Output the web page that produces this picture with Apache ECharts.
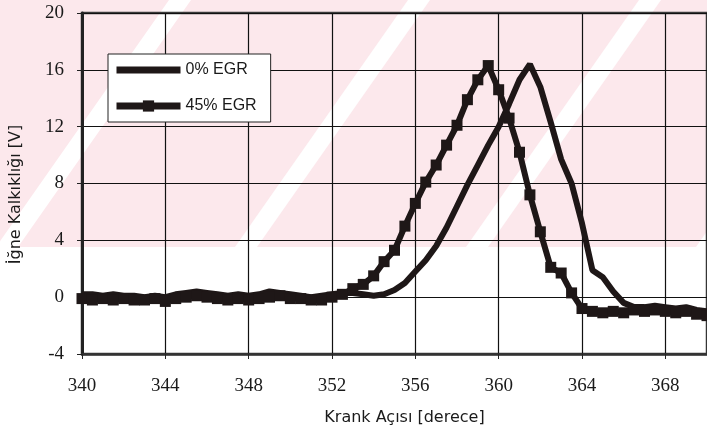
<!DOCTYPE html>
<html>
<head>
<meta charset="utf-8">
<script src="https://cdn.jsdelivr.net/npm/echarts@6/dist/echarts.min.js"></script>
<style>html,body{margin:0;padding:0;background:#fff;}#c{width:707px;height:435px;}</style>
</head>
<body>
<div id="c"></div>
<script>
// Crank angle (degrees)
var angles = [340,340.5,341,341.5,342,342.5,343,343.5,344,344.5,345,345.5,346,346.5,347,347.5,348,348.5,349,349.5,
  350,350.5,351,351.5,352,352.5,353,353.5,354,354.5,355,355.5,356,356.5,357,357.5,358,358.5,359,359.5,
  360,360.5,361,361.5,362,362.5,363,363.5,364,364.5,365,365.5,366,366.5,367,367.5,368,368.5,369,369.5,370];
// Needle lift [V], 0% EGR
var egr0 = [0.2,0.2,0.1,0.2,0.1,0.1,0.0,0.1,0.0,0.2,0.3,0.4,0.3,0.2,0.1,0.2,0.1,0.2,0.4,0.3,
  0.2,0.1,0.0,0.1,0.2,0.3,0.3,0.2,0.1,0.2,0.5,1.0,1.8,2.6,3.6,4.9,6.4,7.9,9.3,10.7,
  12.0,13.6,15.3,16.4,14.8,12.3,9.7,8.0,5.2,1.9,1.4,0.4,-0.4,-0.7,-0.7,-0.6,-0.7,-0.8,-0.7,-0.9,-1.0];
// Needle lift [V], 45% EGR
var egr45 = [-0.1,-0.2,-0.1,-0.2,-0.1,-0.2,-0.2,-0.1,-0.3,-0.1,0.0,0.1,0.0,-0.1,-0.2,-0.1,-0.2,-0.1,0.0,0.1,
  -0.1,-0.1,-0.2,-0.2,0.0,0.2,0.6,0.9,1.5,2.5,3.3,5.0,6.6,8.1,9.3,10.7,12.1,13.9,15.3,16.3,
  14.6,12.6,10.2,7.2,4.6,2.1,1.7,0.3,-0.8,-1.0,-1.1,-1.0,-1.1,-0.9,-1.0,-0.9,-1.0,-1.1,-1.0,-1.2,-1.3];
var seriesNames = ['0% EGR', '45% EGR'];
var xTitle = 'Krank Açısı [derece]';
var yTitle = 'İğne Kalkıklığı [V]';

function pairs(xs, ys) { return xs.map(function (x, i) { return [x, ys[i]]; }); }

// background watermark (decoration)
var wm = [{ type: 'rect', z: -10, shape: { x: 0, y: 0, width: 707, height: 247 }, style: { fill: '#fce8ec' }, silent: true }];
[ -60, 180, 419, 650, 880 ].forEach(function (c) {
  var h = 11, d = 173;
  wm.push({ type: 'polygon', z: -9, silent: true,
    shape: { points: [[c - h, 0], [c + h, 0], [c + h - d, 247], [c - h - d, 247]] },
    style: { fill: '#ffffff' } });
});

var lineColor = '#1e1717';
var chart = echarts.init(document.getElementById('c'), null, { renderer: 'canvas' });
chart.setOption({
  animation: false,
  backgroundColor: '#ffffff',
  graphic: wm,
  grid: { left: 82, top: 13, width: 630, height: 341, show: true, borderColor: '#3a3a3a', borderWidth: 2.5, backgroundColor: 'transparent' },
  legend: {
    left: 108, top: 54, orient: 'vertical',
    backgroundColor: '#ffffff', borderColor: '#222', borderWidth: 1,
    padding: [8, 14, 8, 5], itemGap: 20, itemWidth: 64, itemHeight: 14,
    lineStyle: { width: 7 },
    textStyle: { fontFamily: 'Liberation Sans', fontSize: 16, color: '#1a1a1a' },
    data: [
      { name: seriesNames[0], itemStyle: { opacity: 0 } },
      { name: seriesNames[1] }
    ]
  },
  xAxis: {
    type: 'value', min: 340, max: 370, interval: 4,
    name: xTitle, nameLocation: 'middle', nameGap: 56,
    nameTextStyle: { fontFamily: 'DejaVu Sans', fontSize: 16, color: '#1a1a1a', padding: [0, 0, 0, 20] },
    axisLine: { onZero: false, lineStyle: { color: '#333', width: 2.5 } },
    axisTick: { show: true, length: 5, lineStyle: { color: '#222', width: 1 } },
    axisLabel: { showMaxLabel: false, margin: 23, fontFamily: 'Liberation Serif', fontSize: 19, color: '#1a1a1a' },
    splitLine: { show: true, lineStyle: { color: '#111', width: 1.2 } }
  },
  yAxis: {
    type: 'value', min: -4, max: 20, interval: 4,
    name: yTitle, nameLocation: 'middle', nameGap: 58, nameRotate: 90,
    nameTextStyle: { fontFamily: 'DejaVu Sans', fontSize: 16, color: '#1a1a1a', padding: [0, 22, 0, 0] },
    axisLine: { show: true, lineStyle: { color: '#222', width: 3 } },
    axisTick: { show: true, length: 5, lineStyle: { color: '#222', width: 1 } },
    axisLabel: { margin: 18, fontFamily: 'Liberation Serif', fontSize: 19, color: '#1a1a1a' },
    splitLine: { show: true, lineStyle: { color: '#111', width: 1.2 } }
  },
  series: [
    { name: seriesNames[0], type: 'line', data: pairs(angles, egr0), symbol: 'none',
      lineStyle: { color: lineColor, width: 6 }, itemStyle: { color: lineColor }, z: 3 },
    { name: seriesNames[1], type: 'line', data: pairs(angles, egr45), symbol: 'rect', symbolSize: 11, showAllSymbol: true,
      lineStyle: { color: lineColor, width: 6 }, itemStyle: { color: lineColor }, z: 4 }
  ]
});
</script>
</body>
</html>
